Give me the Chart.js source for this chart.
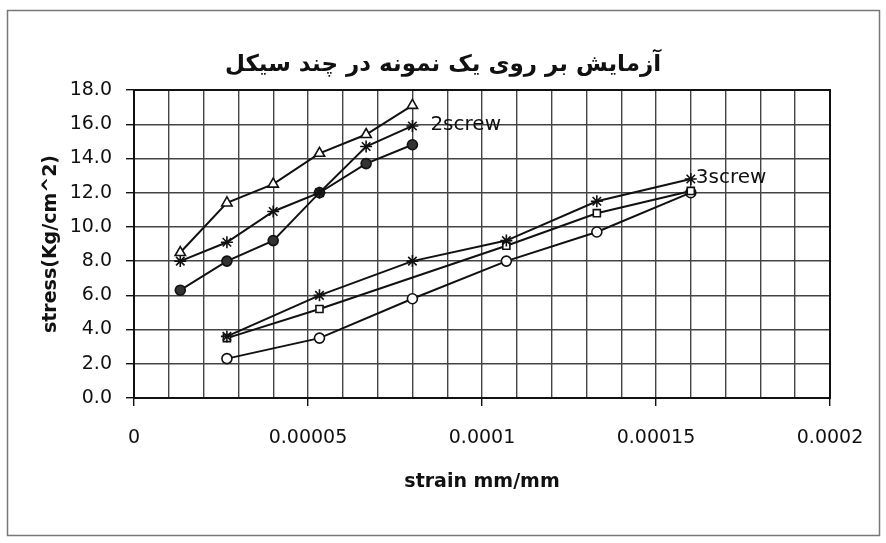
<!DOCTYPE html>
<html>
<head>
<meta charset="utf-8">
<script src="https://cdn.jsdelivr.net/npm/chart.js@4"></script>
<style>
  html, body { margin: 0; padding: 0; background: #fff; }
  #wrap { width: 886px; height: 543px; }
</style>
</head>
<body>
<div id="wrap"><canvas id="myChart" width="886" height="543"></canvas></div>
<script>
// strain values (mm/mm)
var strainUp = [0.0000133, 0.0000267, 0.00004, 0.0000533, 0.0000667, 0.00008];
var strainLow = [0.0000267, 0.0000533, 0.00008, 0.000107, 0.000133, 0.00016];
var strainLowSq = [0.0000267, 0.0000533, 0.000107, 0.000133, 0.00016];

// stress values (Kg/cm^2)
var triUp = [8.5, 11.4, 12.5, 14.3, 15.4, 17.1];
var starUp = [8.0, 9.1, 10.9, 12.0, 14.7, 15.9];
var circUp = [6.3, 8.0, 9.2, 12.0, 13.7, 14.8];
var starLow = [3.6, 6.0, 8.0, 9.2, 11.5, 12.8];
var sqLow = [3.5, 5.2, 8.9, 10.8, 12.1];
var circLow = [2.3, 3.5, 5.8, 8.0, 9.7, 12.0];

var titleText = 'آزمایش بر روی یک نمونه در چند سیکل';
var endLabels = [{ series: 1, text: '2screw' }, { series: 3, text: '3screw' }];

function toPoints(xs, ys) {
  return xs.map(function (x, i) { return { x: x, y: ys[i] }; });
}

function series(xs, ys, style, fill, radius) {
  return {
    data: toPoints(xs, ys),
    showLine: true,
    borderColor: '#111',
    borderWidth: 2,
    pointStyle: style,
    pointRadius: radius,
    pointBorderColor: '#111',
    pointBorderWidth: 1.6,
    pointBackgroundColor: fill
  };
}

// white page, outer frame, title and series end labels
var decor = {
  id: 'decor',
  beforeDraw: function (chart) {
    var ctx = chart.ctx;
    ctx.save();
    ctx.fillStyle = '#fff';
    ctx.fillRect(0, 0, chart.width, chart.height);
    ctx.restore();
  },
  afterDraw: function (chart) {
    var ctx = chart.ctx;
    var area = chart.chartArea;
    ctx.save();
    ctx.strokeStyle = '#777';
    ctx.lineWidth = 1.5;
    ctx.strokeRect(7.5, 10.5, 872, 525);

    // plot frame
    ctx.strokeStyle = '#111';
    ctx.lineWidth = 2;
    ctx.strokeRect(area.left, area.top, area.right - area.left, area.bottom - area.top);

    ctx.fillStyle = '#111';
    ctx.font = 'bold 23px "DejaVu Sans"';
    ctx.textAlign = 'center';
    ctx.textBaseline = 'middle';
    ctx.direction = 'rtl';
    ctx.fillText(titleText, 443, 65);
    ctx.direction = 'ltr';

    // end-of-series labels, nudged clear of the markers
    var shift = { '2screw': 18, '3screw': 5 };
    ctx.font = '20px "DejaVu Sans"';
    ctx.textAlign = 'left';
    endLabels.forEach(function (l) {
      var meta = chart.getDatasetMeta(l.series);
      var p = meta.data[meta.data.length - 1];
      ctx.fillText(l.text, p.x + shift[l.text], p.y - 1);
    });
    ctx.restore();
  }
};

var ctx = document.getElementById('myChart').getContext('2d');
var myChart = new Chart(ctx, {
  type: 'scatter',
  data: {
    datasets: [
      series(strainUp, triUp, 'triangle', '#fff', 6),
      series(strainUp, starUp, 'star', '#111', 6),
      series(strainUp, circUp, 'circle', '#333', 5),
      series(strainLow, starLow, 'star', '#111', 6),
      series(strainLowSq, sqLow, 'rect', '#fff', 5),
      series(strainLow, circLow, 'circle', '#fff', 5)
    ]
  },
  options: {
    responsive: false,
    animation: false,
    layout: { padding: { left: 36, right: 56, top: 90, bottom: 46 } },
    plugins: {
      legend: { display: false },
      tooltip: { enabled: false }
    },
    scales: {
      x: {
        type: 'linear',
        min: 0,
        max: 0.0002,
        afterFit: function (scale) { scale.height = 99; },
        border: { color: '#111', width: 2 },
        grid: {
          color: '#444',
          lineWidth: 1.4,
          tickLength: 8,
          tickColor: function (c) { return c.index % 5 === 0 ? '#111' : 'rgba(0,0,0,0)'; }
        },
        ticks: {
          stepSize: 0.00001,
          autoSkip: false,
          maxRotation: 0,
          padding: 21,
          color: '#111',
          font: { family: 'DejaVu Sans', size: 19 },
          callback: function (v, i) {
            if (i % 5 !== 0) return '';
            return String(Number(v.toFixed(5)));
          }
        },
        title: {
          display: true,
          text: 'strain mm/mm',
          color: '#111',
          padding: { top: 4, bottom: 4 },
          font: { family: 'DejaVu Sans', size: 19, weight: 'bold' }
        }
      },
      y: {
        min: 0,
        max: 18,
        afterFit: function (scale) { scale.width = 98; },
        border: { color: '#111', width: 2 },
        grid: { color: '#444', lineWidth: 1.4, tickLength: 8, tickColor: '#111' },
        ticks: {
          stepSize: 2,
          padding: 14,
          color: '#111',
          font: { family: 'DejaVu Sans', size: 19 },
          callback: function (v) { return v.toFixed(1); }
        },
        title: {
          display: true,
          text: 'stress(Kg/cm^2)',
          color: '#111',
          padding: { top: 4, bottom: 4 },
          font: { family: 'DejaVu Sans', size: 19, weight: 'bold' }
        }
      }
    }
  },
  plugins: [decor]
});
</script>
</body>
</html>
